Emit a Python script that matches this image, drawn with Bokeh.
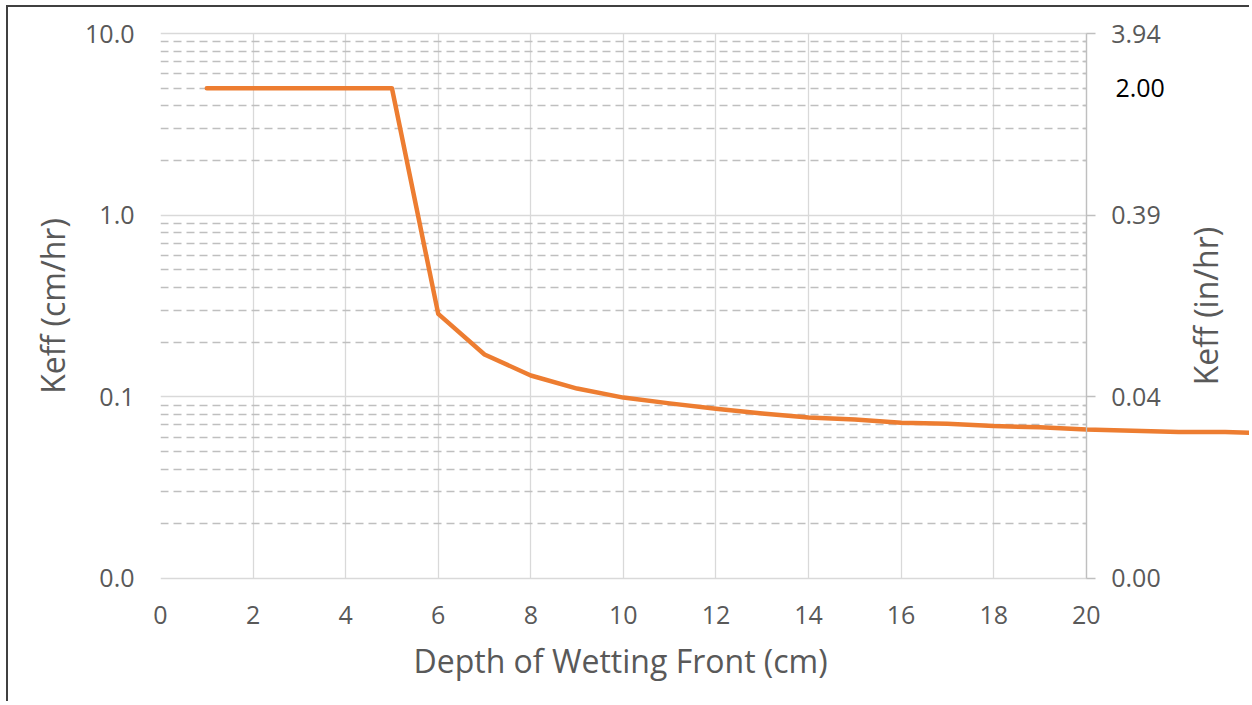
import math
from bokeh.plotting import figure
from bokeh.models import (Range1d, LogAxis, LogScale, FixedTicker, PrintfTickFormatter,
                          Label, Title)
from bokeh.embed import file_html
from bokeh.resources import INLINE

# ---- data ----
depth_cm = [1, 2, 3, 4, 5, 6, 7, 8, 9, 10, 11, 12, 13, 14, 15, 16, 17, 18, 19, 20, 21, 22, 23, 24]
keff_cm_hr = [5.0, 5.0, 5.0, 5.0, 5.0, 0.286, 0.171, 0.131, 0.111, 0.099, 0.092, 0.086, 0.081,
              0.077, 0.075, 0.072, 0.071, 0.069, 0.068, 0.066, 0.065, 0.064, 0.064, 0.063]
x_ticks = [0, 2, 4, 6, 8, 10, 12, 14, 16, 18, 20]
y_major = [0.01, 0.1, 1.0, 10.0]
y_minor = [k * d for d in (0.01, 0.1, 1.0) for k in range(2, 10)]
CM_PER_IN = 2.54
note_text = "2.00"
note_value_cm = 5.0
x_title = "Depth of Wetting Front (cm)"
y_title = "Keff (cm/hr)"
y2_title = "Keff (in/hr)"

# ---- layout constants ----
X_AXIS = (0, 20)
Y_AXIS = (0.01, 10.0)
X_VIEW_END = 23.57
Y_VIEW = (0.00816, 12.25)      # a little room above/below the axis extent
NOTE_X = 20.63
Y2_TITLE_X = 22.58
Y2_TITLE_Y = 0.316

TXT = "#595959"
FONT = "Open Sans"
TICK_FS = "25px"
TITLE_FS = "32px"

p = figure(width=1243, height=696, x_range=Range1d(0, X_VIEW_END), y_range=Range1d(*Y_VIEW),
           y_axis_type="log", output_backend="svg", toolbar_location=None,
           min_border_left=152, min_border_right=0, min_border_top=10, min_border_bottom=109)
p.outline_line_color = None
p.background_fill_color = "white"
p.border_fill_color = "white"
p.styles = {"border-left": "2px solid #404040", "border-top": "2px solid #404040",
            "margin-left": "6px", "margin-top": "5px"}

# left axis
lax = p.left[0]
lax.ticker = FixedTicker(ticks=y_major, minor_ticks=y_minor)
lax.formatter = PrintfTickFormatter(format="%.1f")
lax.bounds = Y_AXIS
lax.axis_label = y_title
lax.axis_line_color = None
lax.major_tick_line_color = None
lax.minor_tick_line_color = None
lax.major_tick_out = 0
lax.minor_tick_out = 0
lax.major_label_standoff = 26
lax.axis_label_standoff = 8

# bottom axis
bax = p.below[0]
bax.ticker = FixedTicker(ticks=x_ticks)
bax.bounds = X_AXIS
bax.axis_line_color = None
bax.major_tick_line_color = None
bax.minor_tick_line_color = None
bax.major_tick_out = 0
bax.minor_tick_out = 0
bax.major_label_standoff = 11

for ax in (lax, bax):
    ax.major_label_text_font = FONT
    ax.major_label_text_font_size = TICK_FS
    ax.major_label_text_color = TXT
    ax.axis_label_text_font = FONT
    ax.axis_label_text_font_size = TITLE_FS
    ax.axis_label_text_font_style = "normal"
    ax.axis_label_text_color = TXT

p.add_layout(Title(text=x_title, align="left", offset=253, vertical_align="top", standoff=24,
                   text_font=FONT, text_font_size=TITLE_FS, text_font_style="normal",
                   text_color=TXT), "below")

# grids
yg = p.ygrid[0]
yg.grid_line_color = "#D9D9D9"
yg.grid_line_width = 1.3
yg.minor_grid_line_color = "#BFBFBF"
yg.minor_grid_line_width = 1.3
yg.minor_grid_line_dash = "8 5"
yg.cross_bounds = X_AXIS
xg = p.xgrid[0]
xg.grid_line_color = "#D9D9D9"
xg.grid_line_width = 1.3
xg.cross_bounds = Y_AXIS

# right axis in in/hr, drawn at x = 20
p.extra_y_ranges = {"in": Range1d(Y_VIEW[0] / CM_PER_IN, Y_VIEW[1] / CM_PER_IN)}
p.extra_y_scales = {"in": LogScale()}
rax = LogAxis(y_range_name="in",
              ticker=FixedTicker(ticks=[v / CM_PER_IN for v in y_major],
                                 minor_ticks=[v / CM_PER_IN for v in y_minor]),
              formatter=PrintfTickFormatter(format="%.2f"),
              fixed_location=X_AXIS[1],
              bounds=(Y_AXIS[0] / CM_PER_IN, Y_AXIS[1] / CM_PER_IN))
rax.axis_line_color = "#BFBFBF"
rax.axis_line_width = 1.3
rax.major_tick_line_color = "#BFBFBF"
rax.major_tick_line_width = 1.3
rax.major_tick_out = 9
rax.major_tick_in = 0
rax.minor_tick_line_color = "#BFBFBF"
rax.minor_tick_line_width = 1.3
rax.minor_tick_in = 4
rax.minor_tick_out = 0
rax.major_label_standoff = 16
rax.major_label_text_font = FONT
rax.major_label_text_font_size = TICK_FS
rax.major_label_text_color = TXT
p.add_layout(rax, "right")

# series
LINE = "#ED7D31"
p.line(depth_cm, keff_cm_hr, line_color=LINE, line_width=4.5,
       line_cap="round", line_join="round")

# right-hand axis title and text note
p.add_layout(Label(x=Y2_TITLE_X, y=Y2_TITLE_Y, text=y2_title, angle=math.pi / 2,
                   text_font=FONT, text_font_size=TITLE_FS, text_color=TXT,
                   text_align="center", text_baseline="alphabetic"))
p.add_layout(Label(x=NOTE_X, y=note_value_cm, text=note_text,
                   text_font=FONT, text_font_size=TICK_FS, text_color="black",
                   text_align="left", text_baseline="middle"))

open("out.html", "w").write(file_html(p, INLINE))
